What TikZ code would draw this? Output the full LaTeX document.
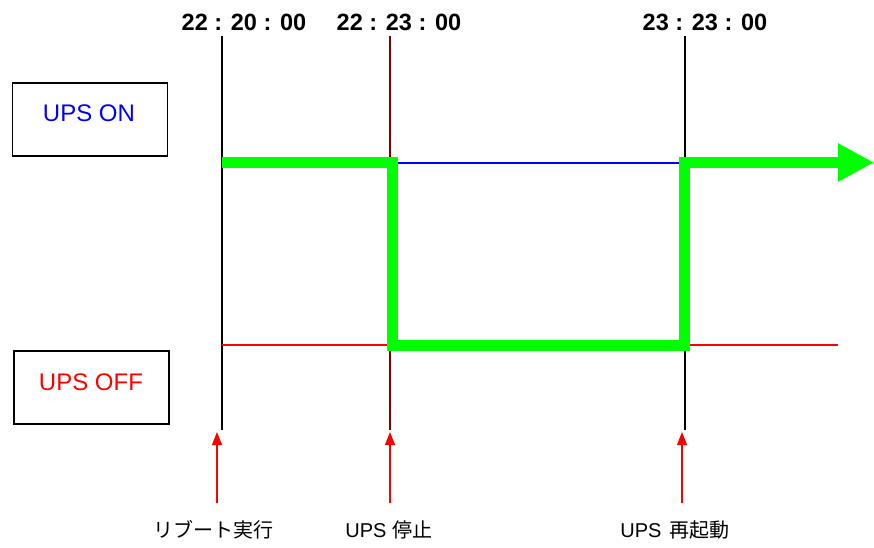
\documentclass[tikz,border=0pt]{standalone}
\usepackage{fontspec}
\setmainfont{Liberation Sans}
\newfontfamily\jpfont{Noto Sans CJK JP}
\usetikzlibrary{arrows.meta}
\definecolor{ongreen}{RGB}{0,255,0}
\definecolor{stopred}{RGB}{128,0,0}
\begin{document}
\begin{tikzpicture}[x=1pt,y=-1pt,
  statebox/.style={draw=black, line width=1.5pt, minimum width=155pt, minimum height=73pt, inner sep=0pt},
  statetext/.style={font=\fontsize{24}{28}\selectfont, inner sep=0pt},
  timelabel/.style={font=\bfseries\fontsize{23.5}{27}\selectfont, inner sep=0pt},
  eventlabel/.style={font=\jpfont\fontsize{20}{24}\selectfont, inner sep=0pt},
  timeline/.style={line width=1.4pt},
  levelline/.style={line width=1.2pt},
  eventarrow/.style={draw=red, line width=1.1pt, -{Triangle[length=13pt,width=10pt]}},
  signal/.style={draw=ongreen, line width=11pt, line join=miter, -{Triangle[length=36pt,width=36pt]}}
]
\useasboundingbox (0,0) rectangle (874,547);

% state boxes
\node[statebox] (onbox) at (90,119.5) {};
\node[statetext, text=blue] (ontext) at (89,113.5) {UPS ON};
\node[statebox] (offbox) at (91.5,387.5) {};
\node[statetext, text=red] (offtext) at (91,382) {UPS OFF};

% time labels
\node[timelabel] (t1) at (244,22) {22 : 20 : 00};
\node[timelabel] (t2) at (399,22) {22 : 23 : 00};
\node[timelabel] (t3) at (705,22) {23 : 23 : 00};

% timeline coordinates
\coordinate (v1top) at (222,36);  \coordinate (v1bot) at (222,430);
\coordinate (v2top) at (390,36);  \coordinate (v2bot) at (390,430);
\coordinate (v3top) at (685,36);  \coordinate (v3bot) at (685,430);
\draw[timeline, black] (v1top) -- (v1bot);
\draw[timeline, stopred] (v2top) -- (v2bot);
\draw[timeline, black] (v3top) -- (v3bot);

% level lines
\coordinate (onL) at (390,163); \coordinate (onR) at (685,163);
\coordinate (offL) at (222,345); \coordinate (offR) at (838,345);
\draw[levelline, blue] (onL) -- (onR);
\draw[levelline, red] (offL) -- (offR);

% green signal
\coordinate (s0) at (222,162.5);
\coordinate (s1) at (392,162.5);
\coordinate (s2) at (392,345);
\coordinate (s3) at (684,345);
\coordinate (s4) at (684,162.5);
\coordinate (s5) at (874,162.5);
\draw[signal] (s0) -- (s1) -- (s2) -- (s3) -- (s4) -- (s5);

% event labels and arrows
\node[eventlabel] (e1) at (213,530) {リブート実行};
\node[eventlabel] (e2) at (389,530) {{\rmfamily\fontsize{20}{24}\selectfont UPS\hspace{6pt}}停止};
\node[eventlabel] (e3) at (675,530) {{\rmfamily\fontsize{20}{24}\selectfont UPS\hspace{8pt}}再起動};
\coordinate (a1b) at (217,503); \coordinate (a1t) at (217,432);
\coordinate (a2b) at (390,503); \coordinate (a2t) at (390,432);
\coordinate (a3b) at (682,503); \coordinate (a3t) at (682,432);
\draw[eventarrow] (a1b) -- (a1t);
\draw[eventarrow] (a2b) -- (a2t);
\draw[eventarrow] (a3b) -- (a3t);
\end{tikzpicture}
\end{document}
